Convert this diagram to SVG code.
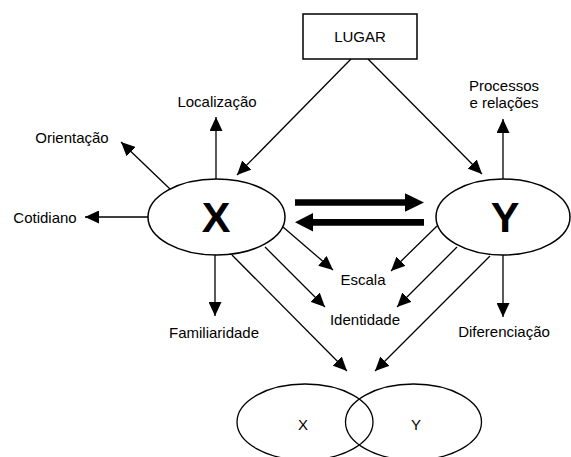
<svg xmlns="http://www.w3.org/2000/svg" width="571" height="457" viewBox="0 0 571 457">
<defs>
<style>
.ln{stroke:#000;stroke-width:1.3;fill:none}
.sh{stroke:#000;stroke-width:1.5;fill:#fff}
.t{font-family:"Liberation Sans",Arial,sans-serif;font-size:15px;fill:#000;text-anchor:middle}
.big{font-family:"Liberation Sans",Arial,sans-serif;font-size:43px;font-weight:bold;fill:#000;text-anchor:middle}
</style>
<marker id="ah" markerUnits="userSpaceOnUse" markerWidth="14" markerHeight="13" refX="14" refY="6.5" orient="auto">
<path d="M0,0 L14,6.5 L0,13 z" fill="#000"/>
</marker>
</defs>
<rect width="571" height="457" fill="#fff"/>
<g id="connectors">
<line class="ln" x1="351" y1="59" x2="237" y2="175" marker-end="url(#ah)"/>
<line class="ln" x1="368" y1="59" x2="482" y2="174" marker-end="url(#ah)"/>
<line class="ln" x1="216" y1="179" x2="216" y2="117" marker-end="url(#ah)"/>
<line class="ln" x1="170" y1="189" x2="121" y2="142" marker-end="url(#ah)"/>
<line class="ln" x1="148" y1="217" x2="85" y2="217" marker-end="url(#ah)"/>
<line class="ln" x1="503" y1="180" x2="503" y2="119" marker-end="url(#ah)"/>
<line class="ln" x1="283" y1="227" x2="333" y2="270" marker-end="url(#ah)"/>
<line class="ln" x1="437" y1="226" x2="391" y2="271" marker-end="url(#ah)"/>
<line class="ln" x1="265" y1="247" x2="325" y2="307" marker-end="url(#ah)"/>
<line class="ln" x1="457" y1="247" x2="397" y2="307" marker-end="url(#ah)"/>
<line class="ln" x1="215" y1="255" x2="215" y2="316" marker-end="url(#ah)"/>
<line class="ln" x1="503" y1="255" x2="503" y2="317" marker-end="url(#ah)"/>
<line class="ln" x1="232" y1="255" x2="347" y2="371" marker-end="url(#ah)"/>
<line class="ln" x1="490" y1="256" x2="375" y2="371" marker-end="url(#ah)"/>
<polygon points="295,199.3 405,199.3 405,193.3 424,202.5 405,211.7 405,205.7 295,205.7" fill="#000"/>
<polygon points="424,219 313,219 313,213 295,222.3 313,231.5 313,225.7 424,225.7" fill="#000"/>
</g>
<g id="lugar">
<rect class="sh" x="303" y="14" width="114" height="45"/>
<text class="t" x="360" y="42">LUGAR</text>
</g>
<g id="x">
<ellipse class="sh" cx="216.5" cy="217" rx="68.5" ry="38"/>
<text class="big" x="216" y="232">X</text>
</g>
<g id="y">
<ellipse class="sh" cx="503" cy="217" rx="67" ry="38"/>
<text class="big" x="505" y="232">Y</text>
</g>
<g id="localizacao"><text class="t" x="217" y="107">Localização</text></g>
<g id="orientacao"><text class="t" x="72" y="143">Orientação</text></g>
<g id="cotidiano"><text class="t" x="45" y="223">Cotidiano</text></g>
<g id="processos"><text class="t" x="504" y="91">Processos</text><text class="t" x="504" y="108">e relações</text></g>
<g id="escala"><text class="t" x="363" y="285">Escala</text></g>
<g id="identidade"><text class="t" x="365" y="325">Identidade</text></g>
<g id="familiaridade"><text class="t" x="214" y="338">Familiaridade</text></g>
<g id="diferenciacao"><text class="t" x="504" y="337">Diferenciação</text></g>
<g id="venn">
<ellipse cx="305" cy="422" rx="68" ry="38" fill="none" stroke="#000" stroke-width="1.3"/>
<ellipse cx="413.5" cy="422" rx="68" ry="38" fill="none" stroke="#000" stroke-width="1.3"/>
<text class="t" x="303" y="430">X</text>
<text class="t" x="416" y="430">Y</text>
</g>
</svg>
